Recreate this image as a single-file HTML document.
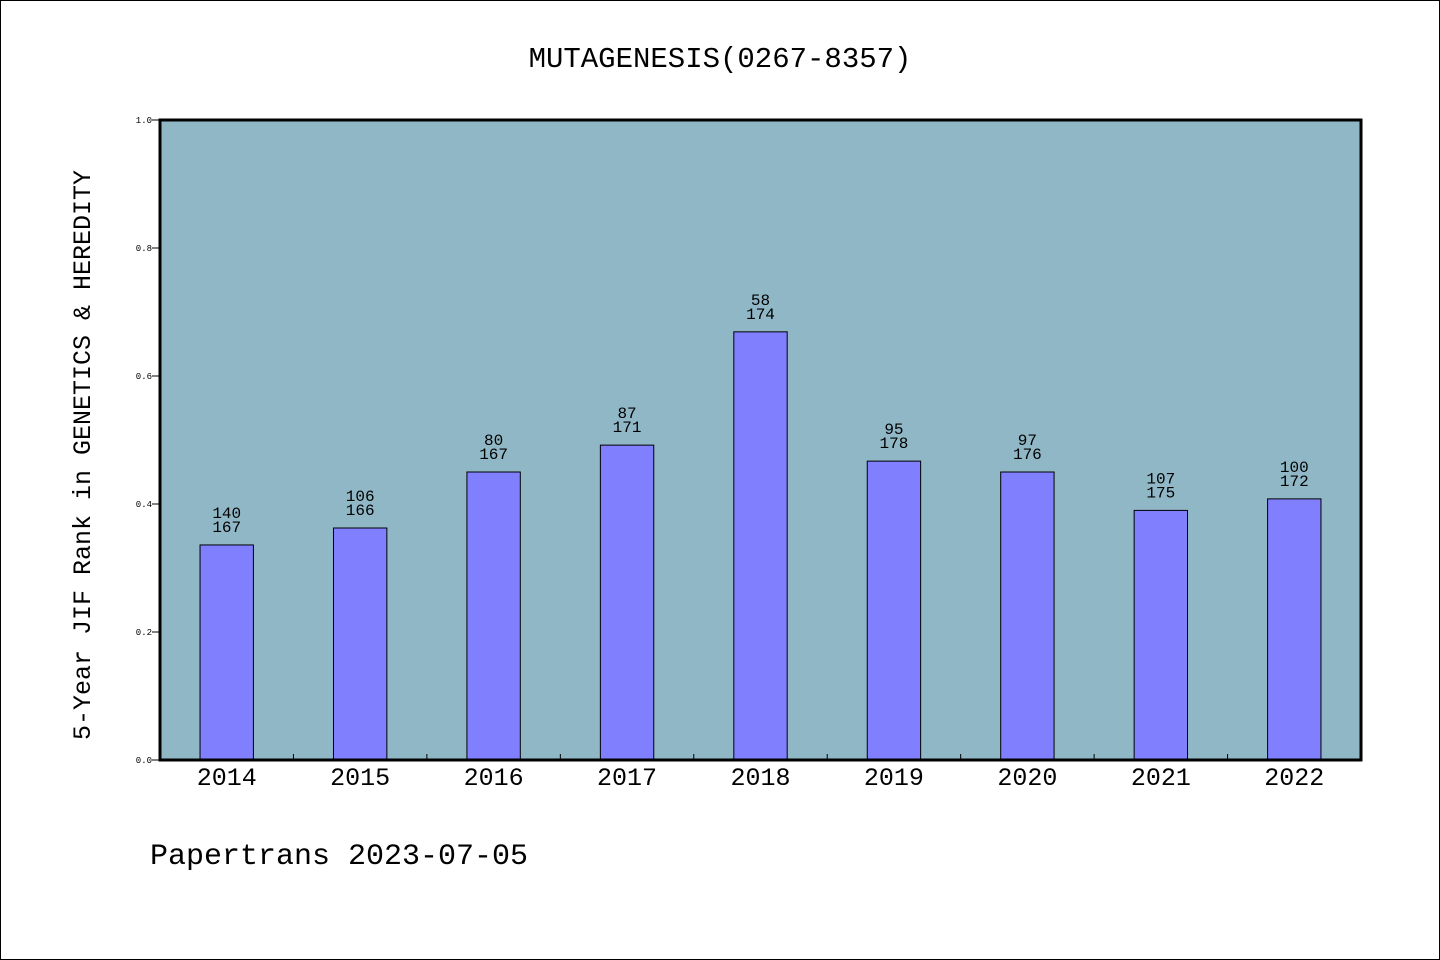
<!DOCTYPE html>
<html><head><meta charset="utf-8"><style>
html,body{margin:0;padding:0;background:#fff}
svg{display:block}
text{font-family:"Liberation Mono","WenQuanYi Zen Hei",monospace;fill:#000}
</style></head><body>
<svg id="chart" width="1440" height="960">
<rect x="0.5" y="0.5" width="1439" height="959" fill="#fff" stroke="#000"/>
<text x="720" y="67" font-size="29" text-anchor="middle">MUTAGENESIS(0267-8357)</text>
<rect x="160" y="120" width="1201" height="640" fill="#8fb7c6"/>
<g id="bars"></g>
<g id="axes"></g>
<rect x="160" y="120" width="1201" height="640" fill="none" stroke="#000" stroke-width="3"/>
<text transform="translate(90,455) rotate(-90)" font-size="25" text-anchor="middle">5-Year JIF Rank in GENETICS &amp; HEREDITY</text>
<text x="150" y="864" font-size="30">Papertrans 2023-07-05</text>
</svg>
<script>
const categories=["2014","2015","2016","2017","2018","2019","2020","2021","2022"];
const values=[0.336,0.3625,0.45,0.492,0.669,0.467,0.45,0.39,0.408];
const ranks=["140","106","80","87","58","95","97","107","100"];
const totals=["167","166","167","171","174","178","176","175","172"];
const yTicks=[0,0.2,0.4,0.6,0.8,1.0];
const tickLabels=["0.0","0.2","0.4","0.6","0.8","1.0"];
const NS="http://www.w3.org/2000/svg";
const L=160,R=1361,T=120,B=760;
const step=(R-L)/categories.length;
const x=i=>L+step*(i+0.5);
const y=v=>B-(B-T)*v;
function mk(tag,attrs,parent){const e=document.createElementNS(NS,tag);for(const k in attrs)e.setAttribute(k,attrs[k]);parent.appendChild(e);return e;}
const bars=document.getElementById('bars'),axes=document.getElementById('axes');
const bw=step*0.4;
categories.forEach((c,i)=>{
 const r=mk('rect',{x:x(i)-bw/2,y:y(values[i]),width:bw,height:B-y(values[i]),fill:'#8080ff',stroke:'#000','stroke-width':1},bars);
 
 
 const t1=mk('text',{x:x(i),y:y(values[i])-27,'font-size':16,'text-anchor':'middle'},bars);
 t1.textContent=ranks[i];
 
 
 const t2=mk('text',{x:x(i),y:y(values[i])-13,'font-size':16,'text-anchor':'middle'},bars);
 t2.textContent=totals[i];
 
 
 const xl=mk('text',{x:x(i),y:785,'font-size':25,'text-anchor':'middle'},axes);
 xl.textContent=c;
 
 
 if(i>0){const tk=mk('line',{x1:L+step*i,x2:L+step*i,y1:B,y2:B-6,stroke:'#000'},axes);
 
 }
});
yTicks.forEach((v,i)=>{
 const tk=mk('line',{x1:L-8,x2:L,y1:y(v),y2:y(v),stroke:'#000'},axes);
 
 
 const t=mk('text',{x:L-8,y:y(v)+3,'font-size':9,'text-anchor':'end'},axes);
 t.textContent=tickLabels[i];
 
 
});
</script>
</body></html>
